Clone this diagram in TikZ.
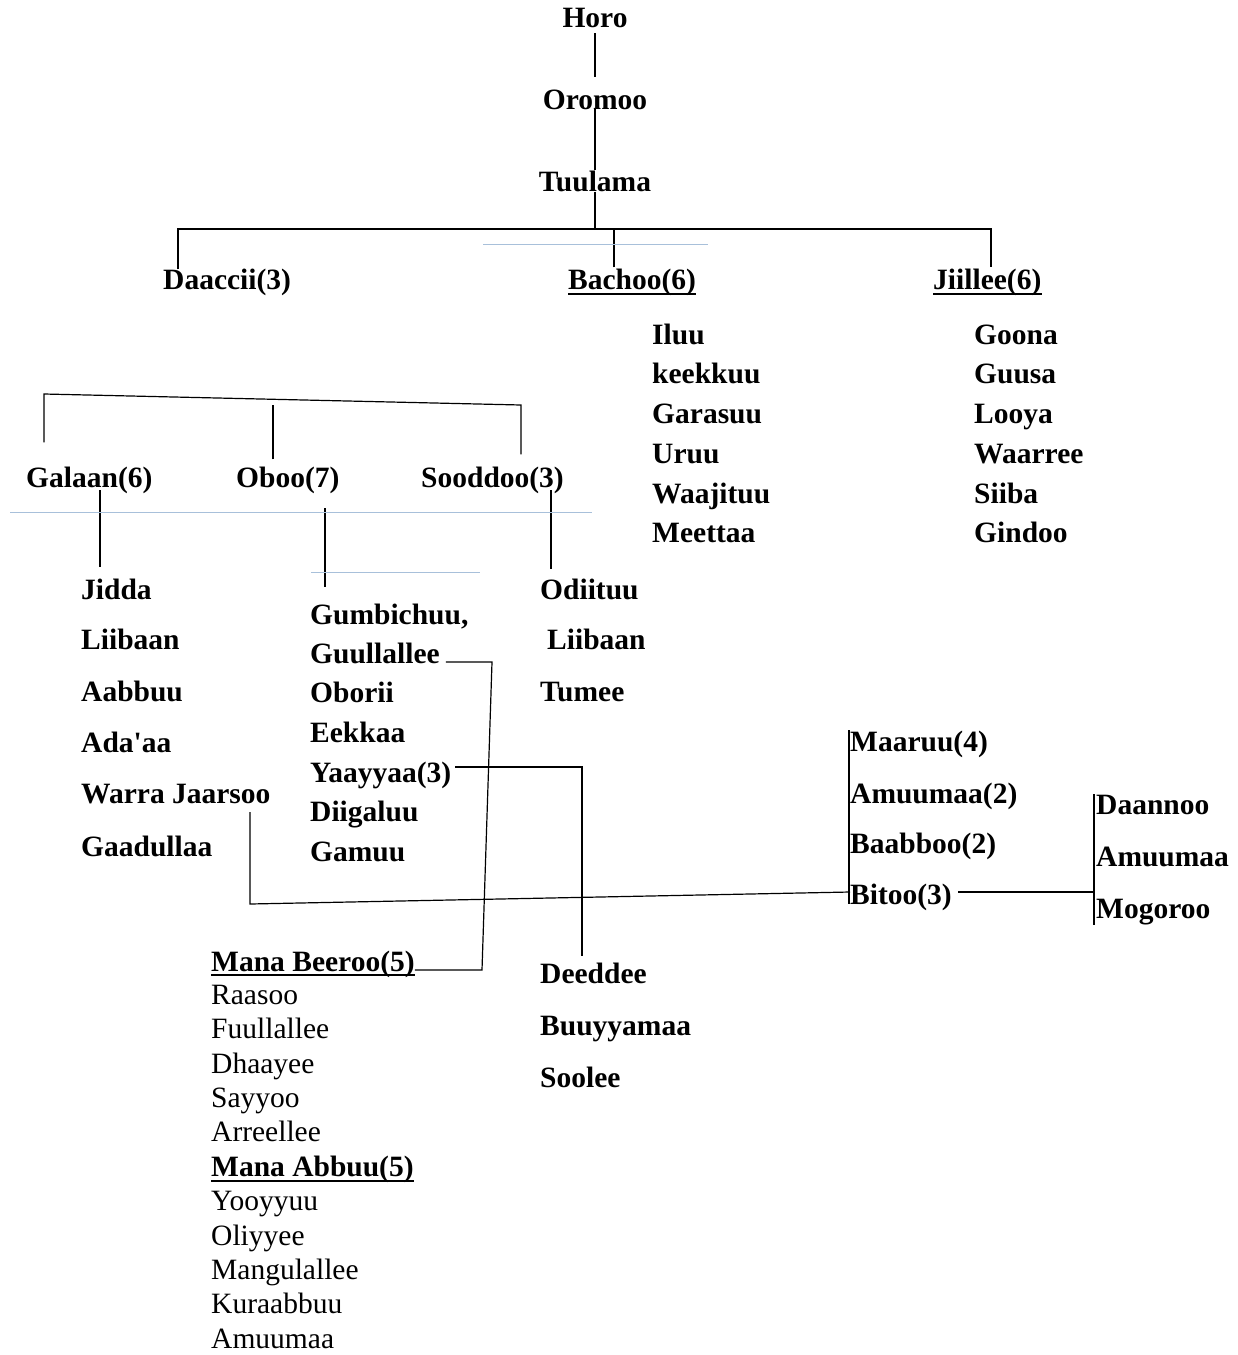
\documentclass[tikz,border=0pt]{standalone}
\usepackage{fontspec}
\setmainfont{Liberation Serif}
\usetikzlibrary{positioning}
\definecolor{guideblue}{RGB}{168,192,218}

\begin{document}
\begin{tikzpicture}[x=1pt, y=-1pt,
	clan/.style={font=\fontsize{29.5}{35}\selectfont\bfseries, anchor=base west, inner sep=0pt},
	house/.style={font=\fontsize{29.5}{35}\selectfont, anchor=base west, inner sep=0pt},
	root/.style={clan, anchor=base},
	link/.style={line width=1.2pt},
	uline/.style={line width=2.6pt},
	guide/.style={line width=1pt, draw=guideblue}]
	\useasboundingbox (0,0) rectangle (1238,1355);

	\node[root] (horo)    at (595,27)  {Horo};
	\node[root] (oromoo)  at (595,109) {Oromoo};
	\node[root] (tuulama) at (595,191) {Tuulama};

	\node[clan] (daaccii) at (163,289) {Daaccii(3)};
	\node[clan] (bachoo)  at (568,289) {Bachoo(6)};
	\node[clan] (jiillee) at (933,289) {Jiillee(6)};

	\node[clan] (iluu)     at (652,344) {Iluu};
	\node[clan] (keekkuu)  at (652,383) {keekkuu};
	\node[clan] (garasuu)  at (652,423) {Garasuu};
	\node[clan] (uruu)     at (652,463) {Uruu};
	\node[clan] (waajituu) at (652,503) {Waajituu};
	\node[clan] (meettaa)  at (652,542) {Meettaa};

	\node[clan] (goona)   at (974,344) {Goona};
	\node[clan] (guusa)   at (974,383) {Guusa};
	\node[clan] (looya)   at (974,423) {Looya};
	\node[clan] (waarree) at (974,463) {Waarree};
	\node[clan] (siiba)   at (974,503) {Siiba};
	\node[clan] (gindoo)  at (974,542) {Gindoo};

	\node[clan] (galaan)  at (26,487)  {Galaan(6)};
	\node[clan] (oboo)    at (236,487) {Oboo(7)};
	\node[clan] (sooddoo) at (421,487) {Sooddoo(3)};

	\node[clan] (jidda)     at (81,599) {Jidda};
	\node[clan] (liibaan)   at (81,649) {Liibaan};
	\node[clan] (aabbuu)    at (81,701) {Aabbuu};
	\node[clan] (adaaa)     at (81,752) {Ada\textquotesingle aa};
	\node[clan] (warra)     at (81,803) {Warra Jaarsoo};
	\node[clan] (gaadullaa) at (81,856) {Gaadullaa};

	\node[clan] (gumbichuu)  at (310,624) {Gumbichuu,};
	\node[clan] (guullallee) at (310,663) {Guullallee};
	\node[clan] (oborii)     at (310,702) {Oborii};
	\node[clan] (eekkaa)     at (310,742) {Eekkaa};
	\node[clan] (yaayyaa)    at (310,782) {Yaayyaa(3)};
	\node[clan] (diigaluu)   at (310,821) {Diigaluu};
	\node[clan] (gamuu)      at (310,861) {Gamuu};

	\node[clan] (odiituu)  at (540,599) {Odiituu};
	\node[clan] (liibaans) at (547,649) {Liibaan};
	\node[clan] (tumee)    at (540,701) {Tumee};

	\node[clan] (maaruu)   at (850,751) {Maaruu(4)};
	\node[clan] (amuumaa)  at (850,803) {Amuumaa(2)};
	\node[clan] (baabboo)  at (850,853) {Baabboo(2)};
	\node[clan] (bitoo)    at (850,904) {Bitoo(3)};

	\node[clan] (daannoo)  at (1096,814) {Daannoo};
	\node[clan] (amuumab)  at (1096,866) {Amuumaa};
	\node[clan] (mogoroo)  at (1096,918) {Mogoroo};

	\node[clan] (deeddee)   at (540,983)  {Deeddee};
	\node[clan] (buuyyamaa) at (540,1035) {Buuyyamaa};
	\node[clan] (soolee)    at (540,1087) {Soolee};

	\node[clan]  (manabeeroo) at (211,971)  {Mana Beeroo(5)};
	\node[house] (raasoo)     at (211,1004) {Raasoo};
	\node[house] (fuullallee) at (211,1038) {Fuullallee};
	\node[house] (dhaayee)    at (211,1073) {Dhaayee};
	\node[house] (sayyoo)     at (211,1107) {Sayyoo};
	\node[house] (arreellee)  at (211,1141) {Arreellee};
	\node[clan]  (manaabbuu)  at (211,1176) {Mana Abbuu(5)};
	\node[house] (yooyyuu)    at (211,1210) {Yooyyuu};
	\node[house] (oliyyee)    at (211,1245) {Oliyyee};
	\node[house] (mangulallee) at (211,1279) {Mangulallee};
	\node[house] (kuraabbuu)  at (211,1313) {Kuraabbuu};
	\node[house] (amuumac)    at (211,1348) {Amuumaa};

	\draw[uline] ([yshift=-5pt]bachoo.base west) -- ([yshift=-5pt]bachoo.base east);
	\draw[uline] ([yshift=-5pt]jiillee.base west) -- ([yshift=-5pt]jiillee.base east);
	\draw[uline] ([yshift=-4pt]manabeeroo.base west) -- ([yshift=-4pt]manabeeroo.base east);
	\draw[uline] ([yshift=-5pt]manaabbuu.base west) -- ([yshift=-5pt]manaabbuu.base east);

	\coordinate (tbar)   at (595,229);
	\coordinate (dleft)  at (44,394);
	\coordinate (dright) at (521,405);
	\coordinate (gbend1) at (492,662);
	\coordinate (gbend2) at (482,970);
	\coordinate (wbend)  at (250,904);

	\draw[link] ([yshift=-6pt]horo.south) -- ([yshift=12pt]oromoo.north);
	\draw[link] (oromoo.south) -- (tuulama.north);
	\draw[link] (tuulama.south) -- (tbar);
	\draw[link] ([xshift=15pt,yshift=-1pt]daaccii.north west) |- (tbar) -| ([xshift=58pt,yshift=1pt]jiillee.north west);
	\draw[link] ([xshift=46pt,yshift=1pt]bachoo.north west) |- (tbar);

	\draw[link] ([xshift=18pt,yshift=24pt]galaan.north west) -- (dleft) -- (dright) -- ([xshift=100pt,yshift=12pt]sooddoo.north west);
	\draw[link] ([xshift=37pt,yshift=7pt]oboo.north west) -- ++(0,-54);

	\draw[link] ([xshift=74pt,yshift=-3pt]galaan.base west) -- ([xshift=19pt,yshift=11pt]jidda.north west);
	\draw[link] ([xshift=89pt,yshift=-21pt]oboo.base west) -- ([xshift=15pt,yshift=16pt]gumbichuu.north west);
	\draw[link] ([xshift=130pt,yshift=-3pt]sooddoo.base west) -- ([xshift=11pt,yshift=9pt]odiituu.north west);

	\draw[link] ([xshift=6pt,yshift=1pt]guullallee.base east) -- (gbend1) -- (gbend2) -- ([yshift=1pt]manabeeroo.base east);
	\draw[link] ([xshift=4pt,yshift=15pt]yaayyaa.base east) -| ([xshift=42pt,yshift=6pt]deeddee.north west);
	\draw[link] ([xshift=169pt,yshift=-9pt]warra.base west) -- (wbend) -- ([yshift=12pt]bitoo.base west);

	\draw[link] ([xshift=-1pt]maaruu.north west) -- ([xshift=-1pt]bitoo.base west);
	\draw[link] ([xshift=6pt,yshift=12pt]bitoo.base east) -- ++(136,0);
	\draw[link] ([xshift=-2pt]daannoo.north west) -- ([xshift=-2pt]mogoroo.south west);

	\draw[guide] (483,244) -- (708,244);
	\draw[guide] (10,512) -- (592,512);
	\draw[guide] (311,572) -- (480,572);
\end{tikzpicture}
\end{document}
